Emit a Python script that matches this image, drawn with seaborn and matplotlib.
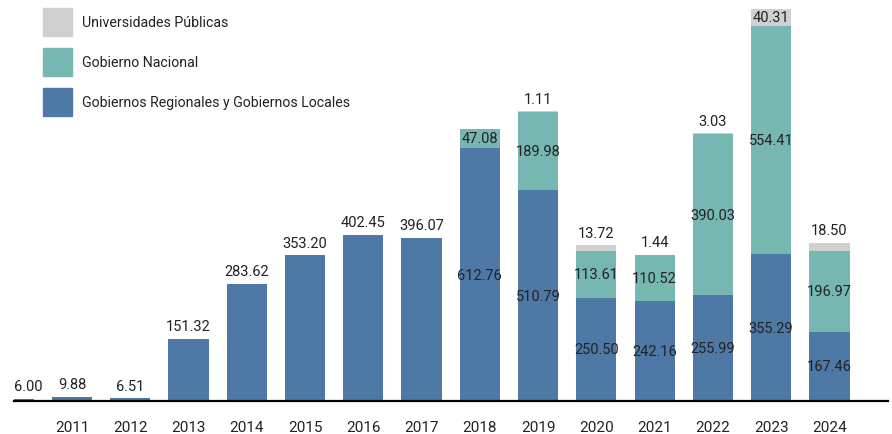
import matplotlib
matplotlib.use("Agg")
import matplotlib.pyplot as plt
from matplotlib.patches import Patch
import seaborn as sns
import pandas as pd
import numpy as np

# ---- data ----
years = ["2010", "2011", "2012", "2013", "2014", "2015", "2016", "2017",
         "2018", "2019", "2020", "2021", "2022", "2023", "2024"]
tick_labels = ["", "2011", "2012", "2013", "2014", "2015", "2016", "2017",
               "2018", "2019", "2020", "2021", "2022", "2023", "2024"]
gob_regionales = [6.00, 9.88, 6.51, 151.32, 283.62, 353.20, 402.45, 396.07,
                  612.76, 510.79, 250.50, 242.16, 255.99, 355.29, 167.46]
gob_nacional = [0, 0, 0, 0, 0, 0, 0, 0,
                47.08, 189.98, 113.61, 110.52, 390.03, 554.41, 196.97]
univ_publicas = [0, 0, 0, 0, 0, 0, 0, 0,
                 0, 1.11, 13.72, 1.44, 3.03, 40.31, 18.50]
series_names = ["Universidades Públicas", "Gobierno Nacional",
                "Gobiernos Regionales y Gobiernos Locales"]

# ---- style ----
C_GR = "#4E79A7"
C_GN = "#76B7B2"
C_UP = "#D0D0D0"
TXT = "#222222"

sns.set_style("white")
plt.rcParams["font.family"] = ["Roboto", "DejaVu Sans"]

df = pd.DataFrame({"year": years, "GR": gob_regionales,
                   "GN": gob_nacional, "UP": univ_publicas})
df["c_gr"] = df["GR"]
df["c_gn"] = df["GR"] + df["GN"]
df["c_up"] = df["c_gn"] + df["UP"]

fig = plt.figure(figsize=(8.92, 4.35), dpi=100)
ax = fig.add_axes([13.7 / 892, 33 / 435, 874 / 892, 402 / 435])

for col, color in [("c_up", C_UP), ("c_gn", C_GN), ("c_gr", C_GR)]:
    sns.barplot(data=df, x="year", y=col, order=years, color=color,
                width=0.69, errorbar=None, saturation=1, ax=ax,
                linewidth=0)

ax.set_xlim(0, 15)
ax.set_ylim(0, 974)
ax.set_xticks(range(len(years)))
ax.set_xticklabels(tick_labels)
ax.tick_params(axis="x", length=0, pad=14, labelsize=11, labelcolor=TXT)
ax.set_yticks([])
ax.set_xlabel("")
ax.set_ylabel("")
for s in ["top", "right", "left"]:
    ax.spines[s].set_visible(False)
ax.spines["bottom"].set_color("black")
ax.spines["bottom"].set_linewidth(1.6)
ax.spines["bottom"].set_zorder(5)

fs = 10.5


def above(i, y, val):
    t = ax.annotate(f"{val:.2f}", (i, y), xytext=(0, 4),
                    textcoords="offset points", ha="center", va="bottom",
                    fontsize=fs, color=TXT, annotation_clip=False)
    return t


def center(i, y0, h, val):
    ax.text(i, y0 + h / 2, f"{val:.2f}", ha="center", va="center",
            fontsize=fs, color=TXT)


for i in range(len(years)):
    gr, gn, up = gob_regionales[i], gob_nacional[i], univ_publicas[i]
    if gn > 0:
        center(i, 0, gr, gr)
        center(i, gr, gn, gn)
    else:
        t = above(i, gr, gr)
        if i == 0:
            t.set_ha("left")
            t.xy = (0, gr)
    if up > 0:
        if up > 30:
            center(i, gr + gn, up, up)
        else:
            above(i, gr + gn + up, up)

handles = [Patch(color=C_UP), Patch(color=C_GN), Patch(color=C_GR)]
ax.legend(handles, series_names, loc="upper left",
          bbox_to_anchor=((43 - 13.7) / 874, 1 - 9 / 402),
          frameon=False, fontsize=10.2, handlelength=2.05, handleheight=2.66,
          handletextpad=0.7, labelspacing=0.85, borderpad=0, borderaxespad=0,
          labelcolor=TXT)

fig.savefig("out.png", dpi=100)
